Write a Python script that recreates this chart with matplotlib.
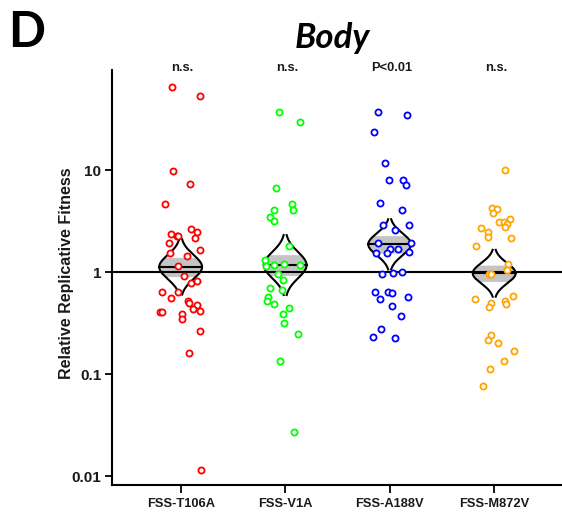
import numpy as np
import matplotlib
matplotlib.use("Agg")
import matplotlib.pyplot as plt

# ---------------- data ----------------
categories = ["FSS-T106A", "FSS-V1A", "FSS-A188V", "FSS-M872V"]
pvalues = ["n.s.", "n.s.", "P<0.01", "n.s."]
colors = ["#ff0000", "#00ff00", "#0000ff", "#ffa500"]

t106a = [65.1, 53.9, 9.78, 7.29, 4.71, 2.64, 2.50, 2.37, 2.27, 2.27, 2.18, 1.95,
         1.65, 1.56, 1.45, 1.15, 0.920, 0.791, 0.822, 0.637, 0.646, 0.556, 0.523,
         0.497, 0.478, 0.436, 0.417, 0.408, 0.408, 0.388, 0.348, 0.266, 0.162, 0.0115]
t106a_jit = [-0.086, 0.185, -0.071, 0.089, -0.147, 0.099, 0.153, -0.093, -0.035, -0.023,
             0.137, -0.112, 0.188, -0.102, 0.057, -0.023, 0.034, 0.099, 0.159, -0.176,
             -0.023, -0.096, 0.073, 0.082, 0.153, 0.115, 0.185, -0.198, -0.179, 0.010,
             0.015, 0.182, 0.082, 0.194]

v1a = [37.3, 29.6, 6.70, 4.67, 4.05, 4.11, 3.51, 3.21, 1.80, 1.32, 1.15, 1.18, 1.20,
       1.18, 0.955, 0.841, 0.706, 0.667, 0.569, 0.520, 0.486, 0.444, 0.393, 0.318,
       0.250, 0.136, 0.027]
v1a_jit = [-0.063, 0.144, -0.092, 0.064, -0.111, 0.071, -0.146, -0.111, 0.033, -0.191,
           -0.185, -0.105, -0.015, 0.144, -0.067, -0.019, -0.144, -0.034, -0.166, -0.178,
           -0.111, 0.033, -0.025, -0.015, 0.124, -0.048, 0.086]

a188v = [37.0, 35.1, 23.9, 11.9, 8.03, 7.98, 7.13, 4.75, 4.08, 2.93, 2.58, 2.89, 1.92,
         1.94, 1.70, 1.68, 1.55, 1.55, 1.58, 0.969, 0.991, 1.007, 0.645, 0.641, 0.622,
         0.544, 0.577, 0.471, 0.376, 0.278, 0.234, 0.225]
a188v_jit = [-0.112, 0.163, -0.153, -0.048, -0.007, 0.131, 0.160, -0.093, 0.115, -0.060,
             0.048, 0.189, -0.112, 0.201, 0.0, 0.083, -0.134, -0.029, 0.189, -0.074,
             0.029, 0.122, -0.141, -0.019, 0.026, -0.089, 0.179, 0.019, 0.108, -0.083,
             -0.163, 0.055]

m872v = [10.0, 4.27, 4.20, 3.79, 3.13, 3.13, 3.35, 2.98, 2.80, 2.72, 2.50, 2.23, 2.17,
         1.82, 1.21, 0.962, 0.962, 1.05, 0.551, 0.497, 0.457, 0.520, 0.486, 0.586,
         0.245, 0.218, 0.204, 0.168, 0.134, 0.113, 0.0762]
m872v_jit = [0.105, -0.025, 0.023, -0.010, 0.042, 0.093, 0.153, 0.119, 0.102, -0.130,
             -0.063, -0.063, 0.160, -0.178, 0.131, -0.048, -0.032, 0.119, -0.188, -0.032,
             -0.051, 0.102, 0.112, 0.182, -0.034, -0.060, 0.038, 0.186, 0.096, -0.041,
             -0.111]

series = [t106a, v1a, a188v, m872v]
jitters = [t106a_jit, v1a_jit, a188v_jit, m872v_jit]
yticks = [0.01, 0.1, 1, 10]
ytick_labels = ["0.01", "0.1", "1", "10"]

# ---------------- figure ----------------
plt.rcParams['font.family'] = ['Liberation Sans', 'DejaVu Sans']
fig = plt.figure(figsize=(5.62, 5.21), dpi=100)
ax = fig.add_axes([112/562, 1-484.5/521, 1-112/562, (484.5-70)/521])
ax.set_yscale('log')
ax.set_ylim(10**(-2.080), 10**(1.983))
ax.set_xlim(0.343, 4.649)

W = 0.205       # max half width of the bean
K = 2.3         # extent in SE units
B = 0.8         # shaded band in SE units

for i, (vals, jit, col) in enumerate(zip(series, jitters, colors)):
    pos = i + 1
    lv = np.log10(np.array(vals))
    m = lv.mean()
    se = lv.std(ddof=1) / np.sqrt(len(lv))
    z = np.linspace(-K, K, 300)
    w = W * np.exp(-0.5 * z**2)
    yy = 10**(m + z*se)
    zb = np.linspace(-B, B, 100)
    wb = W * np.exp(-0.5 * zb**2)
    ax.fill_betweenx(10**(m + zb*se), pos - wb, pos + wb, color='#c4c4c4', lw=0, zorder=2)
    ax.plot(pos - w, yy, color='black', lw=1.5, zorder=4)
    ax.plot(pos + w, yy, color='black', lw=1.5, zorder=4)
    ax.plot([pos - W, pos + W], [10**m, 10**m], color='black', lw=1.5, zorder=4)
    ax.plot(pos + np.array(jit), vals, 'o', ms=4.4, mfc='white', mec=col, mew=1.3,
            zorder=5, ls='none')
    fig.text((112 + (pos - 0.343)*104.5 + 2)/562, 1 - 68/521, pvalues[i],
             ha='center', va='center', fontsize=9.3, fontweight='bold', color='#1a1a1a')

ax.axhline(1, color='black', lw=1.5, zorder=3)

for s in ['top', 'right']:
    ax.spines[s].set_visible(False)
for s in ['left', 'bottom']:
    ax.spines[s].set_linewidth(1.5)

ax.set_yticks(yticks)
ax.set_yticklabels(ytick_labels)
ax.minorticks_off()
ax.set_xticks(range(1, 5))
ax.set_xticklabels(categories)
ax.tick_params(axis='y', length=4.8, width=1.3, pad=3, labelsize=11)
ax.tick_params(axis='x', length=6, width=1.3, pad=4, labelsize=9.3)
for lab in ax.get_xticklabels() + ax.get_yticklabels():
    lab.set_fontweight('bold')
    lab.set_color('#1a1a1a')

fig.text(66/562, 1 - 273/521, "Relative Replicative Fitness", rotation=90,
         ha='center', va='center', fontsize=11.5, fontweight='bold', color='#1a1a1a')

fig.text(332/562, 1 - 48.5/521, "Body", ha='center', va='baseline',
         fontsize=25, fontweight='bold', fontstyle='italic', family=['Lato', 'DejaVu Sans'])
fig.text(0.014, 1 - 47/521, "D", ha='left', va='baseline',
         fontsize=35, fontweight='bold', family=['Lato', 'DejaVu Sans'])

fig.savefig("out.png", dpi=100)
